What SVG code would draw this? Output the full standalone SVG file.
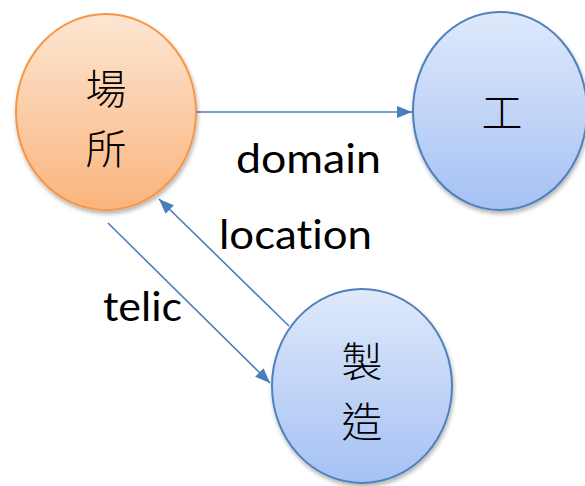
<svg xmlns="http://www.w3.org/2000/svg" width="585" height="486" viewBox="0 0 585 486">
<defs>
<linearGradient id="gOr" x1="0" y1="0" x2="0" y2="1">
<stop offset="0" stop-color="#fde6d3"/>
<stop offset="1" stop-color="#fbb47c"/>
</linearGradient>
<linearGradient id="gBl" x1="0" y1="0" x2="0" y2="1">
<stop offset="0" stop-color="#dfe9fb"/>
<stop offset="1" stop-color="#a5c1f4"/>
</linearGradient>
<filter id="sh" x="-10%" y="-10%" width="130%" height="130%">
<feGaussianBlur in="SourceAlpha" stdDeviation="2"/>
<feOffset dx="1" dy="3"/>
<feComponentTransfer><feFuncA type="linear" slope="0.3"/></feComponentTransfer>
<feMerge><feMergeNode/><feMergeNode in="SourceGraphic"/></feMerge>
</filter>
<marker id="ah" viewBox="0 0 10 10" refX="10" refY="5" markerWidth="15" markerHeight="12" orient="auto" markerUnits="userSpaceOnUse" preserveAspectRatio="none">
<path d="M0,0 L10,5 L0,10 z" fill="#4a7ebb"/>
</marker>
</defs>
<style>
.or{fill:url(#gOr);stroke:#f79646;stroke-width:2;filter:url(#sh)}
.bl{fill:url(#gBl);stroke:#4f81bd;stroke-width:2;filter:url(#sh)}
.cjk{font-family:"Noto Sans CJK TC","Noto Sans CJK JP",sans-serif;font-size:41px;font-weight:300;fill:#000;text-anchor:middle}
.lbl{font-family:Lato,"Open Sans",sans-serif;font-size:40px;fill:#000;font-variant-ligatures:none}
.cn{stroke:#4a7ebb;stroke-width:1.6;fill:none;marker-end:url(#ah)}
</style>
<g id="connectors">
<line class="cn" x1="197" y1="112" x2="412" y2="112"/>
<line class="cn" x1="289" y1="326" x2="159" y2="199"/>
<line class="cn" x1="108" y1="223" x2="270" y2="383"/>
</g>
<g id="node-basho">
<ellipse class="or" cx="106" cy="112" rx="90" ry="98"/>
<text class="cjk" x="106" y="104">場<tspan x="106" y="164">所</tspan></text>
</g>
<g id="node-ko">
<ellipse class="bl" cx="500" cy="111" rx="87" ry="99"/>
<text class="cjk" x="502" y="128">工</text>
</g>
<g id="node-seizo">
<ellipse class="bl" cx="362" cy="386" rx="90" ry="97"/>
<text class="cjk" x="362" y="377">製<tspan x="362" y="437">造</tspan></text>
</g>
<g id="labels">
<text class="lbl" x="236" y="173" textLength="145" lengthAdjust="spacingAndGlyphs">domain</text>
<text class="lbl" x="219" y="249" textLength="153" lengthAdjust="spacingAndGlyphs">location</text>
<text class="lbl" x="103" y="321" textLength="79" lengthAdjust="spacingAndGlyphs">telic</text>
</g>
</svg>
